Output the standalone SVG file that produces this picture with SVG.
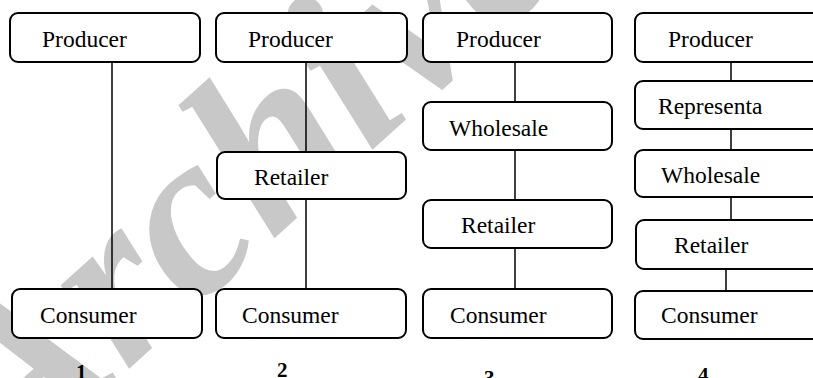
<svg xmlns="http://www.w3.org/2000/svg" width="813" height="378" viewBox="0 0 813 378">
<style>
.box{fill:#fff;stroke:#000;stroke-width:2}
.lbl{font-family:"Liberation Serif","Times New Roman",serif;font-size:23.5px;fill:#000}
.num{font-family:"Liberation Serif","Times New Roman",serif;font-size:21px;font-weight:bold;fill:#000}
.wm{font-family:"Liberation Serif","Times New Roman",serif;font-size:235px;font-weight:bold;font-style:italic;fill:#c8c8c8}
#connectors line{stroke:#000;stroke-width:1.5}
</style>
<rect width="813" height="378" fill="#fff"/>
<text class="wm" transform="translate(9,477) rotate(-42)">Archive</text>
<g id="connectors">
<line x1="112" y1="62" x2="112" y2="289"/>
<line x1="306" y1="62" x2="306" y2="152"/>
<line x1="306" y1="199" x2="306" y2="289"/>
<line x1="515" y1="62" x2="515" y2="102"/>
<line x1="515" y1="150" x2="515" y2="200"/>
<line x1="515" y1="248" x2="515" y2="289"/>
<line x1="731" y1="62" x2="731" y2="81"/>
<line x1="731" y1="129" x2="731" y2="150"/>
<line x1="731" y1="197" x2="731" y2="220"/>
<line x1="726" y1="269" x2="726" y2="291"/>
</g>
<g id="c1-producer"><rect class="box" x="10" y="13" width="190" height="49" rx="8"/><text class="lbl" x="42" y="47">Producer</text></g>
<g id="c1-consumer"><rect class="box" x="12" y="289" width="190" height="49" rx="8"/><text class="lbl" x="40" y="323">Consumer</text></g>
<g id="c2-producer"><rect class="box" x="216" y="13" width="191" height="49" rx="8"/><text class="lbl" x="248" y="47">Producer</text></g>
<g id="c2-retailer"><rect class="box" x="217" y="152" width="189" height="47" rx="8"/><text class="lbl" x="254" y="185">Retailer</text></g>
<g id="c2-consumer"><rect class="box" x="216" y="289" width="190" height="49" rx="8"/><text class="lbl" x="242" y="323">Consumer</text></g>
<g id="c3-producer"><rect class="box" x="423" y="13" width="189" height="49" rx="8"/><text class="lbl" x="456" y="47">Producer</text></g>
<g id="c3-wholesale"><rect class="box" x="423" y="102" width="189" height="48" rx="8"/><text class="lbl" x="449" y="136">Wholesale</text></g>
<g id="c3-retailer"><rect class="box" x="423" y="200" width="189" height="48" rx="8"/><text class="lbl" x="461" y="233">Retailer</text></g>
<g id="c3-consumer"><rect class="box" x="423" y="289" width="189" height="49" rx="8"/><text class="lbl" x="450" y="323">Consumer</text></g>
<g id="c4-producer"><rect class="box" x="635" y="13" width="200" height="49" rx="8"/><text class="lbl" x="668" y="47">Producer</text></g>
<g id="c4-representa"><rect class="box" x="635" y="81" width="200" height="48" rx="8"/><text class="lbl" x="658" y="114">Representa</text></g>
<g id="c4-wholesale"><rect class="box" x="635" y="150" width="200" height="47" rx="8"/><text class="lbl" x="661" y="183">Wholesale</text></g>
<g id="c4-retailer"><rect class="box" x="636" y="220" width="200" height="49" rx="8"/><text class="lbl" x="674" y="253">Retailer</text></g>
<g id="c4-consumer"><rect class="box" x="635" y="291" width="200" height="48" rx="8"/><text class="lbl" x="661" y="323">Consumer</text></g>
<g id="numbers">
<text class="num" x="76" y="379">1</text>
<text class="num" x="277" y="377">2</text>
<text class="num" x="484" y="385">3</text>
<text class="num" x="698" y="382">4</text>
</g>
</svg>
